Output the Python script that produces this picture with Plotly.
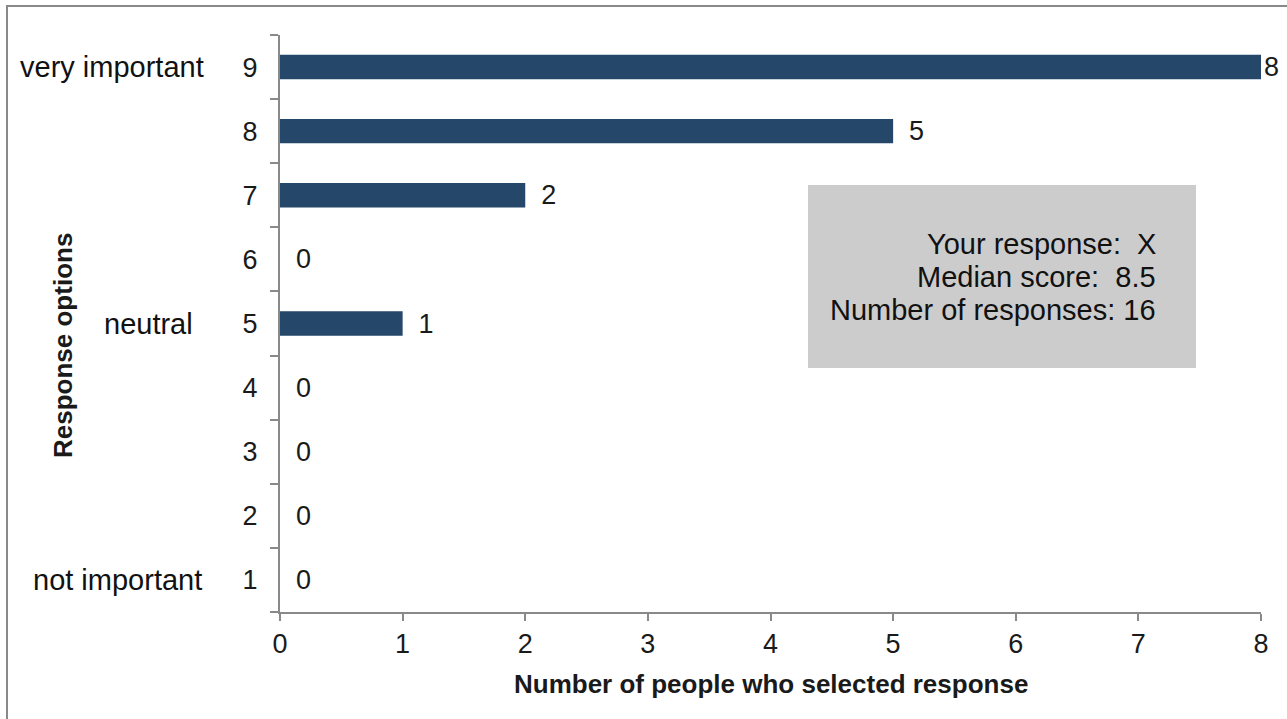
import plotly.graph_objects as go

categories = ["1", "2", "3", "4", "5", "6", "7", "8", "9"]
counts = [0, 0, 0, 0, 1, 0, 2, 5, 8]
side_labels = {"9": "very important", "5": "neutral", "1": "not important"}
info_lines = ["Your response:  X", "Median score:  8.5", "Number of responses: 16"]

# styling / placement (page pixels)
label_right_px = {"9": 206, "5": 195, "1": 204}
info_line_y_px = [244, 277, 310]
FONT = "Liberation Sans, Arial, sans-serif"
BAR = "#254769"
AXIS = "#898989"
TXT = "#1a1a1a"

L, R, T, B = 280, 26, 35, 107
W, H = 1287, 719
pw, ph = W - L - R, H - T - B


def px(xp):
    return (xp - L) / pw


def py(yp):
    return (T + ph - yp) / ph


top = max(counts)
labels = [("\u00a0\u2009" if c < top else "") + str(c) for c in counts]

fig = go.Figure()
fig.add_trace(go.Bar(
    x=counts, y=categories, orientation="h",
    marker=dict(color=BAR, line=dict(width=0)),
    text=labels, textposition="outside", constraintext="none",
    textfont=dict(family=FONT, size=27, color=TXT),
    cliponaxis=False, hoverinfo="skip",
))

fig.update_layout(
    width=W, height=H,
    margin=dict(l=L, r=R, t=T, b=B),
    paper_bgcolor="white", plot_bgcolor="white",
    bargap=0.62, showlegend=False,
    font=dict(family=FONT, size=27, color=TXT),
)
fig.update_xaxes(
    range=[0, 8], dtick=1, showgrid=False, zeroline=False,
    showline=True, linecolor=AXIS, linewidth=2,
    ticks="outside", ticklen=7, tickcolor=AXIS, tickwidth=2,
    tickfont=dict(family=FONT, size=27, color=TXT),
)
fig.update_yaxes(
    type="category", categoryorder="array", categoryarray=categories,
    range=[-0.5, 8.5], showgrid=False, zeroline=False,
    showline=True, linecolor=AXIS, linewidth=2,
    ticks="outside", ticklen=8, tickcolor=AXIS, tickwidth=2, tickson="boundaries",
    tickfont=dict(family=FONT, size=27, color=TXT),
    ticklabelstandoff=15,
)

# Outer frame
fig.add_shape(type="rect", xref="paper", yref="paper",
              x0=px(7), x1=px(W + 20), y0=py(H + 20), y1=py(6),
              line=dict(color=AXIS, width=2), fillcolor="rgba(0,0,0,0)", layer="below")

# Info box
fig.add_shape(type="rect", xref="paper", yref="paper",
              x0=px(808), x1=px(1196), y0=py(368), y1=py(185),
              line=dict(width=0), fillcolor="#CCCCCC", layer="below")
for line, ly in zip(info_lines, info_line_y_px):
    fig.add_annotation(xref="paper", yref="paper", x=px(1158), y=py(ly),
                       xanchor="right", yanchor="middle", align="right", showarrow=False,
                       text=line, font=dict(family=FONT, size=29, color="#111111"))

# Side labels
for cat, lab in side_labels.items():
    fig.add_annotation(xref="paper", yref="y", x=px(label_right_px[cat]),
                       y=categories.index(cat),
                       xanchor="right", yanchor="middle", showarrow=False,
                       text=lab, font=dict(family=FONT, size=29, color="#111111"))

# Axis titles
fig.add_annotation(xref="paper", yref="paper", x=px(63), y=py(346),
                   xanchor="center", yanchor="middle", showarrow=False, textangle=-90,
                   text="<b>Response options</b>",
                   font=dict(family=FONT, size=26, color=TXT))
fig.add_annotation(xref="paper", yref="paper", x=px(771), y=py(684),
                   xanchor="center", yanchor="middle", showarrow=False,
                   text="<b>Number of people who selected response</b>",
                   font=dict(family=FONT, size=26, color=TXT))

fig.write_html("out.html", config={"displayModeBar": False},
               post_script="document.body.style.margin='0';document.body.style.overflow='hidden';")
